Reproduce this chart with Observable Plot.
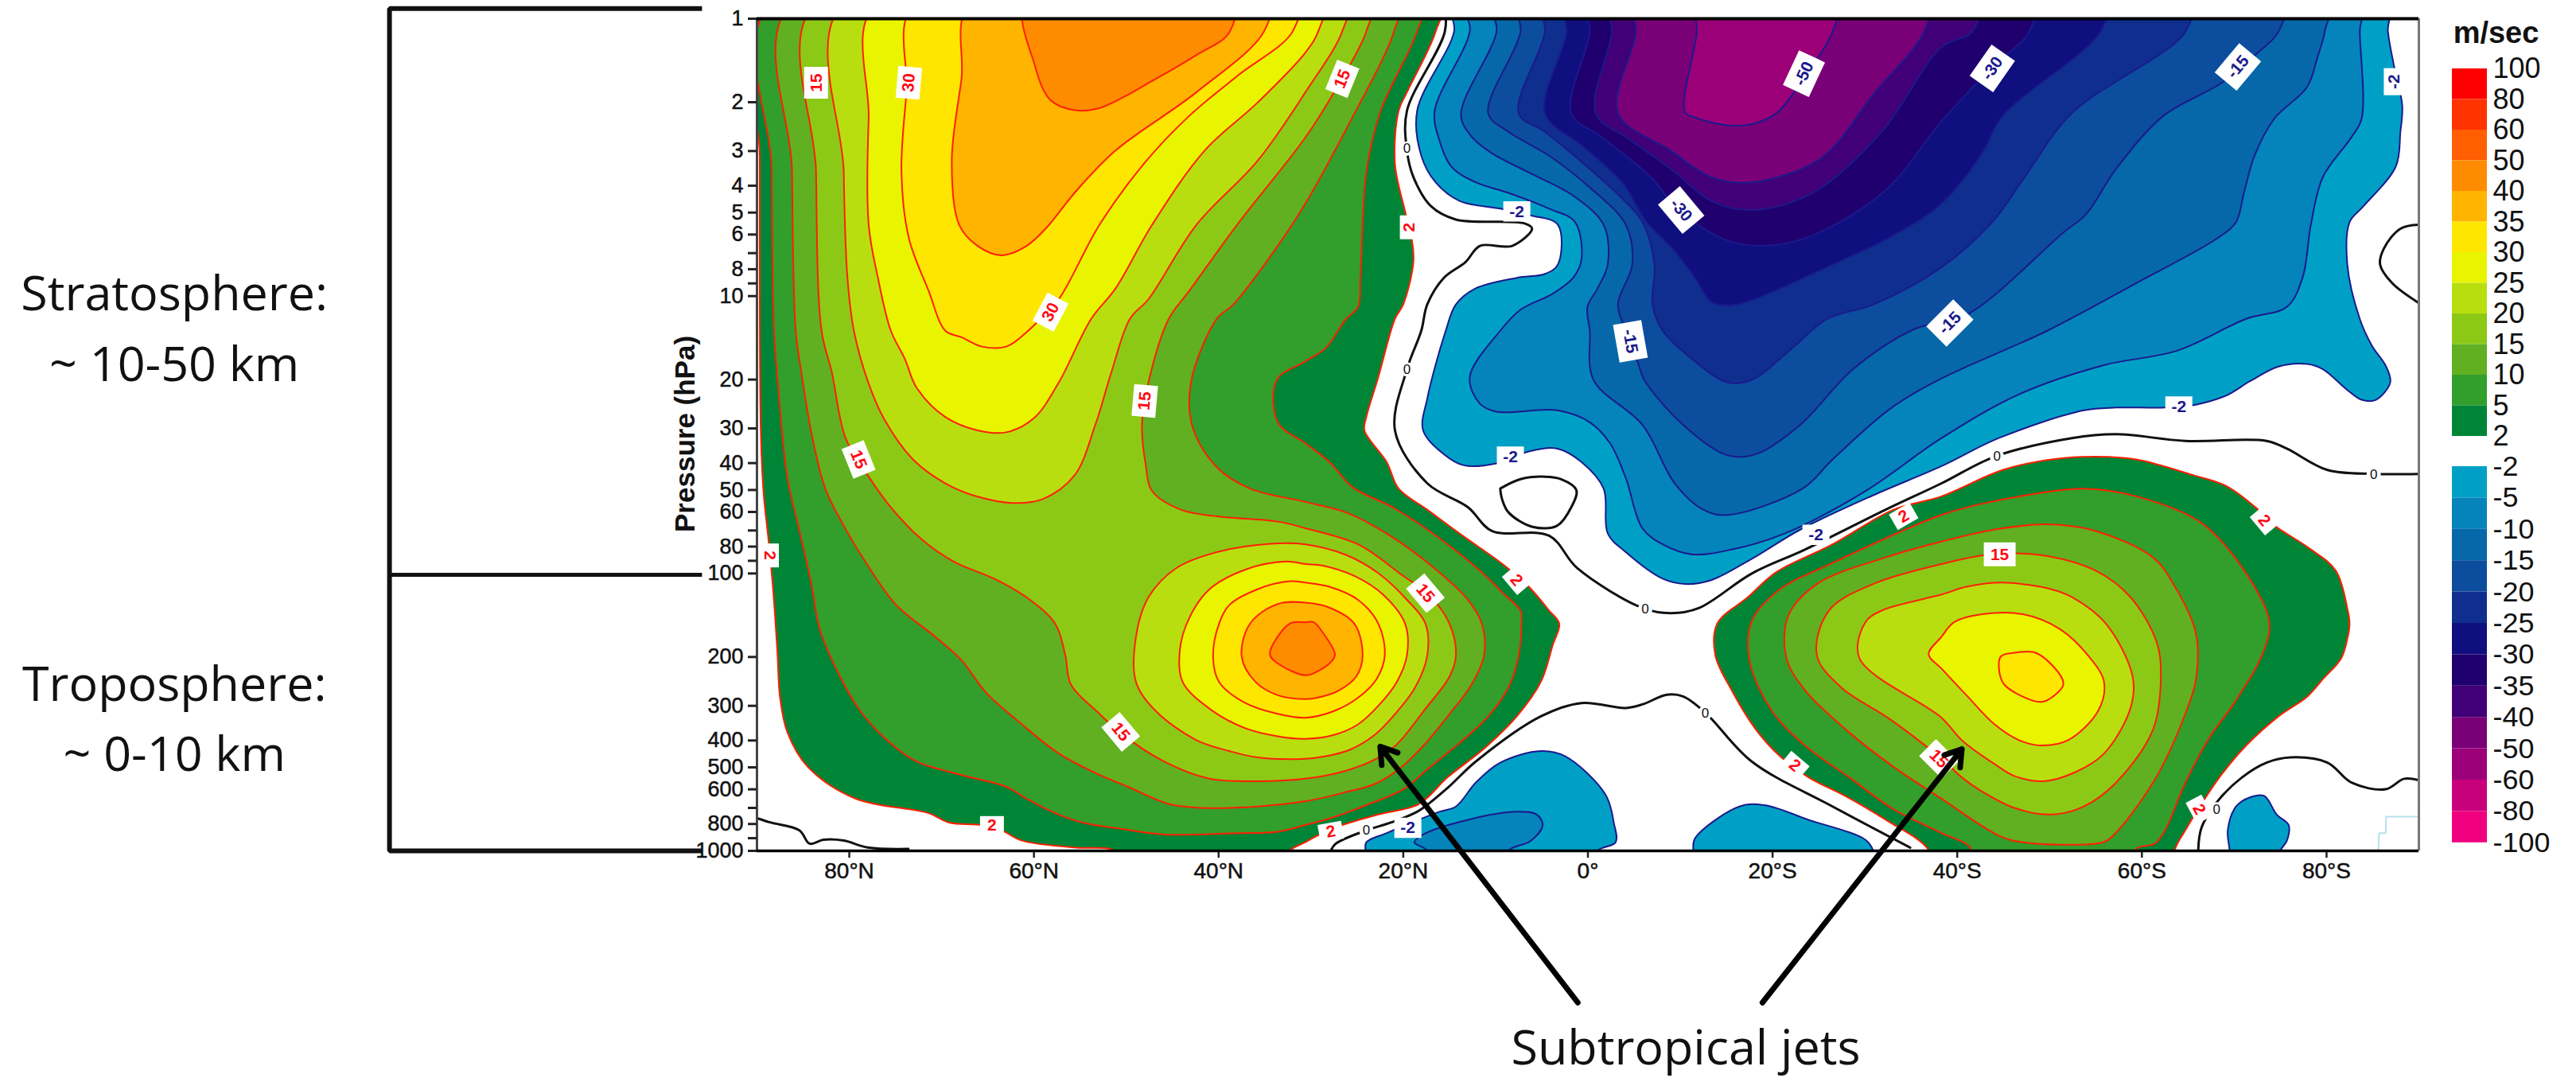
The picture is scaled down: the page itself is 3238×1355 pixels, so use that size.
<!DOCTYPE html>
<html>
<head>
<meta charset="utf-8">
<style>html,body{margin:0;padding:0;background:#fff;overflow:hidden}#wrap{position:relative;width:3238px;height:1355px;overflow:hidden}#wrap svg{position:absolute;left:0;top:0;max-width:none}</style>
<script src="https://cdn.jsdelivr.net/npm/d3@7"></script>
<script src="https://cdn.jsdelivr.net/npm/@observablehq/plot@0.6"></script>
</head>
<body>
<div id="wrap"></div>
<script>
// all traced points are [latitude (+N/-S), log10(pressure in hPa)]
const pos2N=[[89.7,-.06],[89.7,.5],[89.6,1.464],[89.3,1.703],[88.7,1.895],[88.3,2.038],[87.8,2.276],[87.5,2.448],[86.7,2.573],[84.5,2.697],[79.3,2.812],[71.4,2.864],[69.2,2.898],[65.65,2.907],[63.5,2.926],[61.3,2.963],[55.6,2.988],[51.2,3.0],[50,3.06],[33,3.06],[32.3,3.0],[30.6,2.969],[29.3,2.945],[26.6,2.907],[22.7,2.869],[18.3,2.831],[15.2,2.735],[11.2,2.63],[7.7,2.515],[5.1,2.391],[3.8,2.257],[3.1,2.181],[4.2,2.134],[6.4,2.048],[9.05,1.971],[13.9,1.856],[17.4,1.77],[20.5,1.694],[21.8,1.598],[24.2,1.484],[24,1.436],[22.7,1.292],[20.9,1.082],[20,1.03],[18.9,.877],[19.1,.791],[19.8,.695],[20.9,.523],[20.5,.332],[19.6,.265],[16.5,.047],[16,-.06]];
const pos5N=[[88.4,-.06],[88.4,.55],[88.15,1.125],[87.6,1.369],[86.7,1.656],[85.4,1.847],[84.1,2.038],[83.2,2.2],[81,2.372],[78.8,2.496],[76.2,2.592],[72.7,2.678],[67.9,2.726],[63,2.769],[60.8,2.812],[57.7,2.864],[54.7,2.898],[50.3,2.922],[45.9,2.941],[38,2.936],[33.6,2.931],[30.6,2.907],[27.5,2.878],[24,2.835],[20,2.778],[17.4,2.706],[13.9,2.611],[10.8,2.515],[8.6,2.41],[7.5,2.295],[7.2,2.181],[7.3,2.134],[9.05,2.076],[11.7,1.99],[15.6,1.885],[20.9,1.766],[25.5,1.689],[28,1.598],[30.6,1.531],[33.6,1.455],[33.7,1.302],[30.6,1.235],[28.4,1.187],[26.2,1.082],[24.9,1.039],[24.65,.934],[24,.552],[22.45,.332],[18.5,.045],[18,-.06]];
const pos10N=[[86.2,-.06],[86.2,.552],[85.8,1.125],[85.2,1.273],[84.1,1.493],[82.6,1.694],[80.6,1.828],[78,1.971],[74.9,2.114],[70.7,2.228],[67.8,2.314],[65.2,2.429],[61.3,2.544],[57.3,2.649],[52.9,2.726],[49.8,2.769],[45.4,2.831],[41.9,2.845],[35.8,2.84],[30.6,2.821],[26.2,2.788],[23.1,2.759],[20.5,2.706],[17.8,2.62],[15.2,2.515],[12.6,2.4],[11.25,2.295],[11.5,2.181],[13,2.095],[17,1.971],[21.8,1.856],[26.2,1.78],[30.6,1.742],[36.6,1.694],[40.2,1.617],[42.8,1.474],[43,1.311],[40.2,1.082],[38.4,1.03],[33.6,.819],[30.6,.666],[26.2,.399],[21,.045],[20.6,-.06]];
const pos15N=[[83.6,-.06],[83.6,.552],[83,1.125],[81.9,1.273],[80.4,1.512],[78,1.646],[75.75,1.751],[72.2,1.876],[68.7,1.957],[64.3,2.019],[60.8,2.086],[57.7,2.181],[56.6,2.295],[56,2.4],[52.9,2.506],[50.7,2.573],[45.9,2.678],[41,2.74],[35.8,2.749],[30.6,2.74],[26.2,2.711],[22.9,2.668],[20.7,2.616],[17.8,2.496],[15,2.372],[14.3,2.295],[15,2.181],[17.4,2.071],[20,2.009],[24.9,1.895],[30.6,1.837],[33.6,1.813],[40.2,1.794],[44.1,1.77],[47.2,1.703],[47.9,1.608],[48.3,1.464],[47.6,1.311],[45.4,1.082],[43.2,.982],[38,.743],[30.6,.428],[27.5,.265],[24,.045],[23.6,-.06]];
const pos20Strat=[[80.6,-.06],[80.6,.552],[80.2,.934],[79.5,1.125],[77.95,1.311],[76.2,1.445],[73.1,1.589],[69.6,1.675],[66.1,1.723],[62.1,1.746],[59.06,1.732],[55.6,1.646],[53.35,1.464],[51.6,1.273],[49.6,1.082],[47.6,1.011],[42.4,.743],[35.8,.513],[30.6,.265],[26.6,.045],[26.2,-.06]];
const pos25Strat=[[77,-.06],[77.9,.36],[77.9,.743],[76.9,.934],[75.5,1.125],[74,1.225],[72.7,1.331],[69.6,1.436],[66.1,1.484],[63,1.491],[60,1.44],[57.3,1.311],[53.8,1.082],[51.15,.972],[47.2,.743],[41.5,.475],[35.8,.303],[30.6,.122],[29.2,.045],[28.8,-.06]];
const pos30Strat=[[72.8,-.06],[73.8,.265],[74.35,.552],[73.55,.791],[71.4,.982],[69.6,1.125],[67.8,1.149],[65.65,1.182],[63,1.182],[60.8,1.13],[59.3,1.082],[57.3,1.011],[52.9,.743],[48.1,.523],[43.2,.351],[38,.207],[32,.047],[31.6,-.06]];
const pos35Strat=[[66.75,-.06],[67.85,.217],[68.9,.513],[68.1,.743],[66.1,.819],[63.5,.853],[60.8,.819],[58.6,.752],[55.6,.628],[51.15,.475],[42.4,.265],[35.1,.047],[34.7,-.06]];
const pos40Strat=[[60.8,-.06],[59.9,.169],[58.2,.294],[55.55,.33],[52.9,.322],[46.8,.217],[42.4,.131],[38.85,.05],[38.5,-.06]];
const pos20Jet=[[34.4,1.893],[40.2,1.923],[44.6,1.981],[47.6,2.086],[48.95,2.228],[48.95,2.391],[46.8,2.496],[42.4,2.601],[38.85,2.64],[35.8,2.663],[30.6,2.668],[28.4,2.659],[25.75,2.635],[23.1,2.582],[21.1,2.515],[18.7,2.41],[17.4,2.295],[17.6,2.181],[19.6,2.095],[22.7,1.999],[26.2,1.933],[30.6,1.895]];
const pos25Jet=[[32.7,1.957],[37.1,1.986],[41,2.057],[43.2,2.162],[44.2,2.276],[43.9,2.391],[41,2.487],[37.1,2.558],[33.6,2.587],[30.6,2.596],[27.5,2.582],[24.9,2.544],[22.7,2.477],[20.7,2.391],[19.6,2.295],[19.8,2.181],[22.2,2.076],[25.3,2.009],[28.8,1.971],[30.6,1.966]];
const pos30Jet=[[32.3,2.028],[35.8,2.057],[38.85,2.114],[39.95,2.181],[40.6,2.3],[39.95,2.391],[37.1,2.467],[33.6,2.506],[30.6,2.52],[27.5,2.496],[24.9,2.448],[22.9,2.381],[22,2.295],[22.7,2.181],[24.9,2.095],[28,2.048],[30.6,2.033]];
const pos35Jet=[[33.6,2.11],[36.6,2.181],[37.5,2.3],[36,2.391],[33.6,2.439],[30.6,2.453],[29.3,2.448],[27.1,2.424],[25.1,2.372],[24.4,2.295],[25.3,2.181],[28,2.123],[30.6,2.105]];
const pos40Jet=[[32.3,2.181],[34.45,2.291],[33.6,2.324],[30.6,2.367],[29.3,2.353],[27.7,2.314],[27.4,2.291],[28.8,2.209],[29.7,2.176],[30.6,2.176]];
const pos2S=[[-37.1,3.06],[-36.8,2.993],[-32.25,2.888],[-27.85,2.802],[-23.9,2.735],[-20.8,2.659],[-18.2,2.563],[-15.55,2.42],[-13.8,2.295],[-14,2.181],[-17.3,2.086],[-20.4,1.995],[-26.5,1.895],[-33.1,1.77],[-38.3,1.722],[-44.9,1.627],[-50.2,1.589],[-55,1.579],[-59.4,1.589],[-65.6,1.646],[-69.1,1.684],[-72.6,1.77],[-74.4,1.828],[-77.9,1.904],[-81,1.99],[-82.3,2.134],[-82.5,2.181],[-82.3,2.228],[-81.6,2.305],[-79.6,2.381],[-77.9,2.444],[-74.8,2.515],[-71.3,2.62],[-68.6,2.726],[-66.45,2.831],[-64.7,2.926],[-63.6,2.993],[-63.4,3.06]];
const pos5S=[[-59.4,3.06],[-59.4,2.993],[-61.4,2.974],[-62.5,2.926],[-64.7,2.754],[-67.3,2.592],[-70,2.467],[-73,2.295],[-73.8,2.176],[-71.3,2],[-66.45,1.818],[-59.4,1.722],[-53.7,1.694],[-43.6,1.742],[-38.3,1.789],[-26.5,1.962],[-20.6,2.062],[-17.75,2.172],[-17.5,2.314],[-19.95,2.496],[-23.5,2.62],[-28.3,2.735],[-33.1,2.85],[-38.3,2.936],[-41.4,2.988],[-41.8,3.06]];
const pos10S=[[-44.5,2.945],[-47.1,2.969],[-55,2.974],[-56.35,2.96],[-61.2,2.754],[-64.7,2.506],[-65.9,2.372],[-65.8,2.209],[-63.4,2.038],[-61.2,1.942],[-55,1.847],[-49.75,1.823],[-44,1.842],[-38.3,1.885],[-32.25,1.942],[-24.8,2.038],[-21.7,2.153],[-21.5,2.305],[-23.5,2.42],[-28.3,2.573],[-33.1,2.697],[-38.3,2.812]];
const pos15S=[[-40.5,2.735],[-42.3,2.778],[-46.2,2.845],[-50.2,2.869],[-53.7,2.84],[-57.2,2.754],[-61.2,2.563],[-62.05,2.372],[-61.6,2.248],[-58.75,2.085],[-55,1.99],[-48.9,1.933],[-43.2,1.933],[-38.3,1.966],[-30.9,2.038],[-26.1,2.134],[-24.8,2.295],[-27.4,2.41],[-32.7,2.525],[-38.3,2.668]];
const pos20S=[[-40.5,2.601],[-44.05,2.687],[-46.2,2.73],[-49.3,2.749],[-52.8,2.716],[-55.9,2.649],[-58.75,2.487],[-59,2.372],[-56.1,2.181],[-52.4,2.085],[-50.2,2.057],[-44.9,2.033],[-41,2.048],[-38.3,2.076],[-31.8,2.134],[-30.05,2.176],[-29.4,2.305],[-38.3,2.52]];
const pos25S=[[-39.65,2.176],[-42.7,2.147],[-47.1,2.147],[-51.1,2.2],[-54.15,2.295],[-55.9,2.391],[-55.25,2.496],[-52,2.601],[-49.1,2.62],[-46.7,2.601],[-44.05,2.544],[-41,2.439],[-38.3,2.343],[-36.9,2.291],[-38.3,2.228]];
const pos30S=[[-44.7,2.3],[-46.2,2.286],[-48.65,2.288],[-51.5,2.396],[-50.2,2.448],[-49.1,2.463],[-47.1,2.444],[-44.9,2.391]];
const neg2=[[14.6,-.06],[14.5,.047],[18.5,.332],[18.05,.494],[16.5,.59],[13.9,.657],[9.5,.685],[6.2,.709],[3.25,.743],[3.25,.886],[4.65,.92],[7.7,.934],[12.15,.972],[14.3,1.03],[15.4,1.125],[17.4,1.369],[17.85,1.484],[15.6,1.57],[13.45,1.61],[9.9,1.603],[6.4,1.56],[3.3,1.55],[.7,1.598],[-1.7,1.694],[-2.15,1.856],[-4.1,1.923],[-8.1,2.019],[-10.5,2.038],[-13.35,2.024],[-17.75,1.947],[-23,1.842],[-30.9,1.718],[-38.3,1.613],[-44.5,1.512],[-53.7,1.412],[-57.2,1.402],[-62.5,1.402],[-65.6,1.393],[-69.1,1.359],[-71.7,1.307],[-74.8,1.254],[-77.9,1.245],[-79.6,1.264],[-82.3,1.34],[-83.8,1.374],[-85.35,1.374],[-86.9,1.311],[-86.45,1.254],[-84.9,1.178],[-83.6,1.082],[-82.25,.886],[-82.5,.733],[-84,.676],[-87.5,.533],[-88,.408],[-88.2,.313],[-87.3,.169],[-86.65,.047],[-86.5,-.06]];
const neg5=[[13,-.06],[12.8,.047],[16.6,.332],[16.1,.437],[14.8,.533],[12.15,.59],[8.6,.628],[4.2,.685],[1.4,.733],[.7,.867],[1.6,.934],[3.8,.991],[7.3,1.049],[9.5,1.125],[12.8,1.292],[11.7,1.388],[9.9,1.417],[3.3,1.412],[-.2,1.455],[-2.4,1.531],[-4.1,1.656],[-5.9,1.837],[-8.1,1.895],[-11.2,1.931],[-15.55,1.914],[-21.3,1.856],[-30.05,1.703],[-38.3,1.512],[-46.7,1.354],[-55.9,1.249],[-63.8,1.197],[-71.3,1.082],[-75.7,1.039],[-77.4,.934],[-78.3,.743],[-79.6,.571],[-82.7,.427],[-83.8,.36],[-83.6,.047],[-83.6,-.06]];
const neg10=[[10.1,-.06],[9.9,.047],[13.75,.346],[12.55,.427],[10.4,.485],[6,.561],[1.6,.638],[-1.7,.743],[-2.15,.886],[-1.05,.972],[.05,1.039],[-.2,1.125],[-.6,1.302],[-5.9,1.464],[-9.4,1.675],[-12.5,1.77],[-15.1,1.789],[-23.25,1.694],[-26.5,1.589],[-32.7,1.407],[-38.3,1.297],[-49.75,1.125],[-59.4,.953],[-68.2,.791],[-70.2,.733],[-71.05,.628],[-72.2,.494],[-74.35,.36],[-77.9,.246],[-79,.141],[-79.8,.047],[-80,-.06]];
const neg15=[[7.5,-.06],[7.3,.047],[10.8,.341],[8.6,.408],[4.2,.494],[-.2,.609],[-4.1,.743],[-4.8,.886],[-3.25,1.03],[-4.1,1.125],[-5.45,1.244],[-6.1,1.302],[-10.3,1.464],[-15.1,1.574],[-18.2,1.57],[-23,1.464],[-28.7,1.264],[-35.3,1.12],[-41,1.068],[-51.5,.771],[-53.95,.705],[-57.2,.542],[-62.3,.351],[-68.65,.231],[-72.6,.121],[-74.8,.047],[-75.2,-.06]];
const neg20=[[4.9,-.06],[4.65,.047],[7.5,.341],[4.65,.408],[-.2,.542],[-3.7,.648],[-5.9,.733],[-7.2,.886],[-7,1.03],[-8.1,1.125],[-11.2,1.225],[-15.1,1.311],[-17.75,1.302],[-22.15,1.187],[-25.9,1.082],[-30.95,1.03],[-38.3,.896],[-43.8,.733],[-47.3,.571],[-52.4,.341],[-64.7,.047],[-65.1,-.06]];
const neg25=[[2.5,-.06],[2.3,.047],[4.65,.341],[.7,.456],[-3.7,.59],[-6.35,.733],[-9.4,.838],[-11.6,.934],[-13.35,1.02],[-15.1,1.034],[-17.3,1.02],[-26.5,.886],[-33.1,.781],[-38.3,.666],[-42.7,.485],[-44.9,.351],[-55.5,.047],[-56,-.06]];
const neg30=[[0,-.06],[-.2,.047],[1.8,.341],[-1.5,.427],[-6.8,.571],[-9.85,.69],[-15.1,.8],[-19.05,.819],[-24.35,.781],[-32.25,.618],[-38.3,.37],[-43.8,.174],[-47.8,.047],[-48.2,-.06]];
const neg35=[[-2.4,-.06],[-2.6,.047],[-.85,.341],[-4.6,.437],[-9,.542],[-13.35,.657],[-17.75,.69],[-24.35,.628],[-31.8,.408],[-38.3,.102],[-41.6,.047],[-42.1,-.06]];
const neg40=[[-5,-.06],[-5.2,.047],[-3.25,.341],[-8.95,.475],[-13.35,.571],[-17.75,.59],[-25.2,.504],[-30.9,.274],[-36.4,.047],[-36.8,-.06]];
const neg50=[[-11.8,-.06],[-11.8,.047],[-10.5,.336],[-11.6,.356],[-15.1,.384],[-17.75,.38],[-20.4,.341],[-23.5,.207],[-26.5,.047],[-26.9,-.06]];
const lobeA2=[[24.1,3.06],[24.1,3],[24,2.969],[21.8,2.936],[16.1,2.859],[14.3,2.84],[12.15,2.754],[9.5,2.682],[5.1,2.64],[2.45,2.659],[-1.9,2.797],[-2.8,2.898],[-3,2.969],[-1.05,3],[-1,3.06]];
const lobeA5=[[17.4,3.06],[17.4,3],[18.8,2.969],[17.85,2.941],[13,2.888],[7.75,2.859],[5.55,2.869],[4.9,2.907],[6.2,2.964],[8.6,3],[8.6,3.06]];
const lobeB2=[[-11.4,3.06],[-11.4,3],[-11.6,2.955],[-16.4,2.84],[-19.1,2.835],[-23.9,2.888],[-30.05,2.96],[-30.9,3],[-31,3.06]];
const lobeC2=[[-69.5,3.06],[-69.5,3],[-69.3,2.926],[-70.2,2.84],[-71.7,2.807],[-73.25,2.802],[-74.6,2.869],[-75.9,2.907],[-75.7,2.964],[-75,3],[-75,3.06]];
const zero1=[[15.5,-.06],[15.5,.047],[19.6,.332],[19.6,.475],[18.9,.571],[17,.676],[14.3,.724],[6.85,.738],[6.05,.757],[8.2,.819],[11.7,.819],[13.25,.877],[15.6,.934],[17.4,1.03],[18.05,1.125],[19.6,1.264],[20.9,1.484],[17.4,1.675],[13,1.761],[10.4,1.847],[4.2,1.864],[1.15,1.981],[-5.9,2.124],[-9,2.143],[-12.05,2.124],[-17.75,2],[-23.5,1.914],[-32.25,1.77],[-38.3,1.675],[-44.05,1.579],[-52.4,1.512],[-57.2,1.498],[-64.7,1.522],[-73.5,1.522],[-75.7,1.55],[-80.1,1.627],[-85.1,1.641],[-90,1.641]];
const zero2=[[9.5,1.694],[7.3,1.66],[4.65,1.651],[2.9,1.66],[1.25,1.699],[1.8,1.761],[3.35,1.828],[6,1.832],[8.6,1.78],[9.3,1.732],[9.5,1.694]];
const zero3=[[-90,.743],[-88,.757],[-86.2,.829],[-85.8,.886],[-87.1,.953],[-90,1.025]];
const zero4=[[89.9,2.883],[88.5,2.898],[85.4,2.926],[84.3,2.974],[82.8,2.96],[80.6,2.963],[78,2.988],[73.6,2.993]];
const zero5=[[27.85,3],[27.3,2.974],[24,2.926],[21.35,2.898],[18.3,2.855],[15.2,2.773],[12.15,2.678],[5.1,2.515],[.7,2.467],[-4.1,2.485],[-5.9,2.472],[-8.55,2.437],[-10.3,2.443],[-12.7,2.501],[-17.75,2.678],[-26.5,2.84],[-34.9,2.988]];
const zero6=[[-66.1,3],[-66.45,2.917],[-68.2,2.821],[-70.85,2.735],[-73.5,2.682],[-76.1,2.663],[-80.1,2.682],[-82.7,2.754],[-86.4,2.778],[-88.4,2.74],[-90,2.745]];
const stair=[[-85.6,3],[-85.7,2.936],[-86.4,2.936],[-86.45,2.877],[-90,2.877]];

const posLabels=[100,80,60,50,40,35,30,25,20,15,10,5,2];
const posColors=["#ff0000","#ff3300","#ff5f00","#ff8c00","#ffb400","#ffe600","#e8f400","#b8de10","#8cc916","#60b022","#329e2c","#008537"];
const negLabels=[-2,-5,-10,-15,-20,-25,-30,-35,-40,-50,-60,-80,-100];
const negColors=["#00a0c6","#0583bb","#0668a8","#0c4d9d","#0f2e8e","#100f7f","#20006f","#410077","#790077","#9c0079","#c8007a","#f0007f"];

const pTicks=[1,2,3,4,5,6,7,8,9,10,20,30,40,50,60,70,80,90,100,200,300,400,500,600,700,800,900,1000];
const pLabelled=[1,2,3,4,5,6,8,10,20,30,40,50,60,80,100,200,300,400,500,600,800,1000];
const latTicks=[80,60,40,20,0,-20,-40,-60,-80];

const redLabels=[[83.6,.231,"15",-90],[73.55,.231,"30",-85],[58.2,1.058,"30",-62],[26.6,.217,"15",-68],[48,1.378,"15",-85],[79,1.589,"15",68],[17.6,2.071,"15",50],[-44.6,1.931,"15",0],[50.6,2.571,"15",50],[-38,2.668,"15",45]];
const redSmall=[[88.6,1.935,"2",90],[19.4,.752,"2",-90],[7.75,2.024,"2",50],[-34.2,1.794,"2",-30],[-73.25,1.809,"2",50],[64.55,2.907,"2",0],[27.85,2.931,"2",-10],[-22.4,2.692,"2",40],[-66.2,2.85,"2",62]];
const blueLabels=[[-23.4,.198,"-50",-65],[-10.1,.69,"-30",50],[-43.8,.179,"-30",-55],[-70.4,.174,"-15",-50],[-39.2,1.097,"-15",-45],[-4.6,1.163,"-15",80]];
const blueSmall=[[-87.3,.227,"-2",-90],[7.7,.695,"-2",0],[8.4,1.579,"-2",0],[-24.7,1.861,"-2",0],[-64,1.398,"-2",0],[19.5,2.917,"-2",0]];
const zeroLabels=[[19.6,.468],[19.6,1.264],[-6.2,2.129],[-44.3,1.579],[-85.1,1.643],[24,2.926],[-12.7,2.503],[-68.1,2.85]];

const bracketTop=[[95.95,-.0365],[129.8,-.0365],[129.8,3],[95.95,3]];
const bracketMid=[[129.8,2.005],[95.95,2.005]];
const arrowsData=[[1.1,3.547,22.5,2.624],[-18.9,3.547,-40.5,2.633]];
const sideTexts=[[153.1,.995,"Stratosphere:"],[153.1,1.25,"~ 10-50 km"],[153.1,2.403,"Troposphere:"],[153.1,2.655,"~ 0-10 km"]];
const jetsText=[[-10.6,3.715,"Subtropical jets"]];
const axisTitle=[[97.7,1.497,"Pressure (hPa)"]];

const contours=[
 [2,pos2N],[2,pos2S],[5,pos5N],[5,pos5S],[10,pos10N],[10,pos10S],[15,pos15N],[15,pos15S],
 [20,pos20Strat],[20,pos20Jet],[20,pos20S],[25,pos25Strat],[25,pos25Jet],[25,pos25S],[30,pos30Strat],[30,pos30Jet],[30,pos30S],
 [35,pos35Strat],[35,pos35Jet],[40,pos40Strat],[40,pos40Jet],
 [-2,neg2],[-2,lobeA2],[-2,lobeB2],[-2,lobeC2],[-5,neg5],[-5,lobeA5],[-10,neg10],[-15,neg15],[-20,neg20],[-25,neg25],[-30,neg30],[-35,neg35],[-40,neg40],[-50,neg50]
];
const fillOf=l=>l>0?posColors[posLabels.indexOf(l)-1]:negColors[negLabels.indexOf(l)];
const X=d=>d[0], Y=d=>Math.pow(10,d[1]);
const font="Liberation Sans, Arial, sans-serif";
const latLabel=d=>d===0?"0°":`${Math.abs(d)}°${d>0?"N":"S"}`;
const box={draw(c,s){const r=Math.sqrt(s/Math.PI),h=r*.75;c.moveTo(-r,-h);c.lineTo(r,-h);c.lineTo(r,h);c.lineTo(-r,h);c.closePath();}};
const lblMarks=(rows,r,col)=>[
 Plot.dot(rows,{x:X,y:Y,r,symbol:box,fill:"white",stroke:"none",rotate:d=>d[3]}),
 Plot.text(rows,{x:X,y:Y,text:d=>d[2],rotate:d=>d[3],fill:col,fontSize:21,fontWeight:"bold",fontFamily:font})
];

const main=Plot.plot({
 width:3238,height:1355,marginLeft:951,marginRight:198,marginTop:23,marginBottom:286,
 style:{background:"transparent",fontFamily:font},
 x:{domain:[90,-90],axis:null},
 y:{type:"log",domain:[1,1000],reverse:true,axis:null},
 marks:[
  ...contours.map(([l,pts])=>Plot.line(pts,{x:X,y:Y,curve:"catmull-rom-closed",fill:fillOf(l),stroke:l>0?"#ff2000":"#1a1a8c",strokeWidth:2,clip:true})),
  Plot.line(stair,{x:X,y:Y,stroke:"#b5e0ee",strokeWidth:2,clip:true}),
  ...[zero1,zero2,zero3,zero4,zero5,zero6].map(z=>Plot.line(z,{x:X,y:Y,curve:"catmull-rom",stroke:"#111",strokeWidth:3,clip:true})),
  ...lblMarks(redLabels,20,"#ff0a14"),...lblMarks(redSmall,15,"#ff0a14"),
  ...lblMarks(blueLabels,24,"#1a1a8c"),...lblMarks(blueSmall,17,"#1a1a8c"),
  Plot.dot(zeroLabels,{x:X,y:Y,r:9,fill:"white"}),
  Plot.text(zeroLabels,{x:X,y:Y,text:()=>"0",fill:"#111",fontSize:17,fontFamily:font}),
  Plot.ruleX([90],{stroke:"#444",strokeWidth:3}),
  Plot.ruleX([-90],{stroke:"#777",strokeWidth:3}),
  Plot.ruleY(pTicks,{x1:90,x2:90.95,stroke:"#222",strokeWidth:3}),
  Plot.ruleX(latTicks,{y1:1000,y2:1062,stroke:"#222",strokeWidth:2.5}),
  Plot.ruleY([1],{stroke:"#000",strokeWidth:4}),
  Plot.ruleY([1000],{stroke:"#000",strokeWidth:3.5}),
  Plot.text(pLabelled,{x:()=>90,y:d=>d,text:d=>String(d),textAnchor:"end",dx:-17,fontSize:27,fill:"#111",stroke:"#111",strokeWidth:.5,fontFamily:font}),
  Plot.text(latTicks,{x:d=>d,y:()=>1000,text:latLabel,dy:26,fontSize:28,fill:"#111",stroke:"#111",strokeWidth:.5,fontFamily:font}),
  Plot.text(axisTitle,{x:X,y:Y,text:d=>d[2],rotate:-90,fontSize:35,fontWeight:"bold",fill:"#111",fontFamily:font}),
  Plot.line(bracketTop,{x:X,y:Y,stroke:"#111",strokeWidth:6,strokeLinejoin:"miter",strokeLinecap:"butt"}),
  Plot.line(bracketMid,{x:X,y:Y,stroke:"#111",strokeWidth:5,strokeLinecap:"butt"}),
  Plot.arrow(arrowsData,{x1:d=>d[0],y1:d=>Math.pow(10,d[1]),x2:d=>d[2],y2:d=>Math.pow(10,d[3]),stroke:"#000",strokeWidth:7,headLength:5,headAngle:66,strokeLinecap:"round"}),
  Plot.text(sideTexts,{x:X,y:Y,text:d=>d[2],fontSize:61,fill:"#111",fontFamily:"Open Sans"}),
  Plot.text(jetsText,{x:X,y:Y,text:d=>d[2],fontSize:61,fill:"#111",fontFamily:"Open Sans"})
 ]
});

const legend=(labels,colors,top,marginTop,step,extra)=>{
 const n=colors.length;
 const svg=Plot.plot({
  width:198,height:marginTop+n*step+30,marginTop,marginBottom:30,marginLeft:42,marginRight:112,
  style:{background:"transparent",fontFamily:font},
  x:{domain:[0,1],axis:null},
  y:{domain:[0,n],reverse:true,axis:null},
  marks:[
   Plot.rect(colors,{x1:()=>0,x2:()=>1,y1:(d,i)=>i,y2:(d,i)=>i+1,fill:d=>d}),
   Plot.text(labels,{x:()=>1,y:(d,i)=>i,text:d=>String(d),textAnchor:"start",dx:7,fontSize:36,fill:"#111",fontFamily:font}),
   ...extra
  ]
 });
 svg.style.top=top+"px";
 return svg;
};
const unitLabel=[[1.25,-1.17,"m/sec"]];
const wrap=document.getElementById("wrap");
wrap.append(main);
const l1=legend(posLabels,posColors,0,86,38.5,[Plot.text(unitLabel,{x:d=>d[0],y:d=>d[1],text:d=>d[2],fontSize:38,fontWeight:"bold",fill:"#111",fontFamily:font})]);
const l2=legend(negLabels,negColors,555,31,39.4,[]);
[l1,l2].forEach(s=>{s.style.left="3040px";s.style.overflow="visible";wrap.append(s);});
</script>
</body>
</html>
